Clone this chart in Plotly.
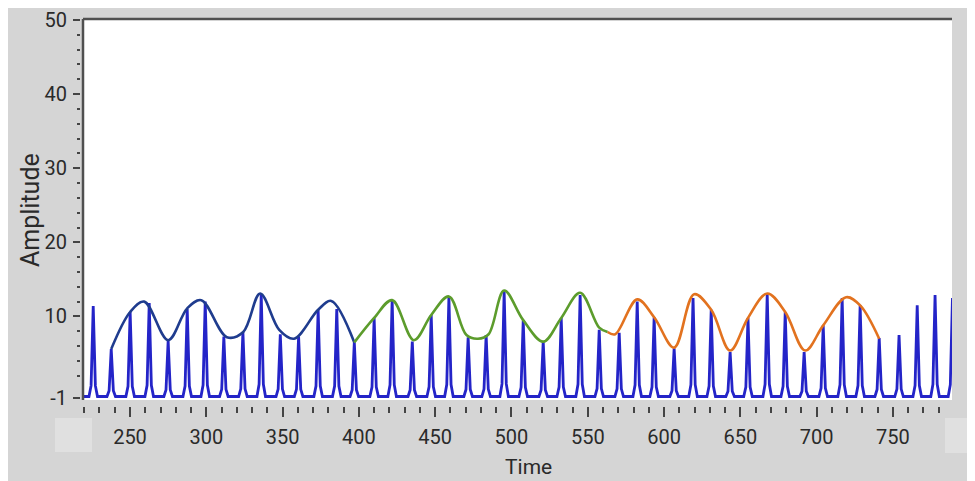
import plotly.graph_objects as go

# ---------------- data ----------------
spike_t = [225.9, 237.7, 250.1, 262.6, 275.0, 287.5, 299.3, 311.5, 324.0, 336.0,
           348.5, 360.5, 373.3, 385.5, 397.0, 410.0, 421.8, 435.0, 447.4, 459.0,
           471.6, 483.4, 495.2, 507.7, 520.8, 532.6, 545.0, 557.5, 570.6, 582.4,
           593.5, 606.6, 619.0, 630.9, 643.3, 655.0, 667.6, 679.4, 691.8, 704.3,
           716.7, 728.5, 741.0, 754.0, 765.9, 777.6, 789.0]
spike_h = [11.4, 5.6, 10.6, 11.8, 6.7, 11.0, 12.0, 7.3, 7.9, 13.0,
           7.6, 7.3, 10.9, 11.0, 6.5, 9.8, 12.2, 6.6, 10.2, 12.6,
           7.2, 7.5, 13.4, 9.5, 6.6, 9.8, 12.9, 8.2, 7.8, 12.0,
           9.9, 5.7, 12.5, 10.9, 5.2, 9.8, 13.0, 10.6, 5.2, 8.8,
           12.5, 11.5, 7.1, 7.5, 11.5, 12.9, 12.5]
baseline = -0.8

env1_t = [237.7, 250.1, 259.3, 275.0, 287.5, 296.7, 313.5, 324.2, 335.3, 347.8, 357.5, 373.3, 381.9, 397.0]
env1_v = [5.6, 10.6, 12.0, 6.8, 11.1, 12.2, 7.2, 7.9, 13.1, 8.2, 7.0, 10.9, 12.1, 6.5]

env2_t = [397.0, 410.0, 421.8, 436.0, 447.4, 459.0, 470.5, 478.0, 485.0, 495.2, 507.7, 520.8, 532.6, 545.0, 557.5, 563.0]
env2_v = [6.5, 9.8, 12.2, 6.8, 10.2, 12.7, 7.5, 7.0, 7.6, 13.5, 9.5, 6.6, 9.8, 13.2, 8.5, 7.9]

env3_t = [563.0, 568.0, 582.4, 593.5, 606.6, 619.7, 630.9, 643.3, 655.0, 667.6, 679.4, 692.5, 704.3, 719.3, 728.5, 741.0]
env3_v = [7.9, 7.6, 12.3, 9.9, 5.8, 13.0, 10.9, 5.4, 9.8, 13.1, 10.6, 5.4, 8.8, 12.6, 11.5, 7.0]

y_major = [-1, 10, 20, 30, 40, 50]
x_major = [250, 300, 350, 400, 450, 500, 550, 600, 650, 700, 750]

# ---------------- geometry / style ----------------
# the page body adds an 8px white margin at top/left; figure coords are page coords - 8
OFF = 8
X_RANGE = [219.2, 788.7]
Y_RANGE = [-1.27, 50.13]
W, H = 967, 473
ML, MR, MT, MB = 72, 23, 11, 75
PW, PH = W - ML - MR, H - MT - MB

SPIKE_COL = "#2424c8"
ENV1_COL = "#1f3c8e"
ENV2_COL = "#5c9c2c"
ENV3_COL = "#e2721f"
TXT = "#2a2a2a"
FONT = "Roboto"

# build spike waveform from spike list (pulse profile is a drawing style)
prof_dx = [-2.8, -1.4, 0.0, 1.4, 2.8]
prof_f = [0.0, 0.12, 1.0, 0.12, 0.0]
wx, wy = [X_RANGE[0]], [baseline]
for t, h in zip(spike_t, spike_h):
    for dx, f in zip(prof_dx, prof_f):
        wx.append(t + dx)
        wy.append(baseline + f * (h - baseline))
wx.append(X_RANGE[1] + 5)
wy.append(baseline)

fig = go.Figure()
fig.add_trace(go.Scatter(x=wx, y=wy, mode="lines", line=dict(color=SPIKE_COL, width=2.8),
                         hoverinfo="skip", showlegend=False))
for tt, vv, col in [(env1_t, env1_v, ENV1_COL), (env2_t, env2_v, ENV2_COL), (env3_t, env3_v, ENV3_COL)]:
    fig.add_trace(go.Scatter(x=tt, y=vv, mode="lines",
                             line=dict(color=col, width=2.6, shape="spline", smoothing=1.0),
                             hoverinfo="skip", showlegend=False))


def px(xp):  # reference page pixel -> paper fraction
    return (xp - OFF - ML) / PW


def py(yp):
    return (MT + PH - (yp - OFF)) / PH


shapes = [
    # corner boxes
    dict(type="rect", xref="paper", yref="paper", x0=px(55), x1=px(92), y0=py(452), y1=py(418),
         fillcolor="#e0e0e0", line=dict(width=0), layer="below"),
    dict(type="rect", xref="paper", yref="paper", x0=px(945), x1=px(990), y0=py(453), y1=py(418),
         fillcolor="#e0e0e0", line=dict(width=0), layer="below"),
    # plot borders
    dict(type="line", xref="x domain", yref="y domain", x0=0, x1=1, y0=1, y1=1,
         line=dict(color="#505050", width=2.5)),
    dict(type="line", xref="x domain", yref="y domain", x0=0, x1=0, y0=0, y1=1,
         line=dict(color="#505050", width=2.5)),
]

fig.update_layout(
    width=W, height=H, autosize=False,
    margin=dict(l=ML, r=MR, t=MT, b=MB, pad=0, autoexpand=False),
    paper_bgcolor="#d5d5d5", plot_bgcolor="#ffffff",
    font=dict(family=FONT, size=20, color=TXT),
    shapes=shapes,
    xaxis=dict(domain=[3 / PW, 1], range=X_RANGE, anchor="free", position=0,
               automargin=False,
               showgrid=False, zeroline=False, showline=False,
               tickmode="array", tickvals=x_major, ticktext=[str(v) for v in x_major],
               ticks="outside", ticklen=10, tickwidth=2, tickcolor="#444",
               ticklabelstandoff=3, ticklabeloverflow="allow",
               minor=dict(tick0=220, dtick=10, ticks="outside", ticklen=6, tickwidth=2,
                          tickcolor="#444", showgrid=False)),
    yaxis=dict(domain=[6 / PH, 1], range=Y_RANGE, anchor="free", position=0,
               automargin=False,
               showgrid=False, zeroline=False, showline=False,
               tickmode="array", tickvals=y_major, ticktext=[str(v) for v in y_major],
               ticks="outside", ticklen=7, tickwidth=2, tickcolor="#444",
               ticklabelstandoff=2, ticklabeloverflow="allow",
               minor=dict(tickmode="array",
                          tickvals=[v for v in range(0, 50, 2) if v % 10 != 0],
                          ticks="outside", ticklen=3, tickwidth=2, tickcolor="#444",
                          showgrid=False)),
    annotations=[
        dict(text="Time", xref="paper", yref="paper", x=px(528), y=py(467),
             showarrow=False, font=dict(family=FONT, size=21, color=TXT),
             xanchor="center", yanchor="middle"),
        dict(text="Amplitude", xref="paper", yref="paper", x=px(30), y=py(210),
             showarrow=False, textangle=-90, font=dict(family=FONT, size=25, color=TXT),
             xanchor="center", yanchor="middle"),
    ],
)

fig.write_html("out.html")
